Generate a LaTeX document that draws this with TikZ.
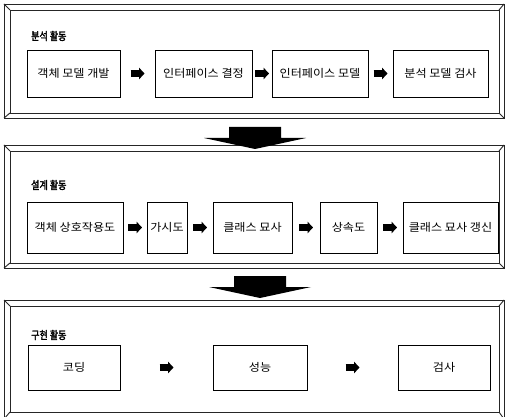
\documentclass[tikz,border=0pt]{standalone}
\usepackage{fontspec}
\newfontfamily\krbox[FakeStretch=1.1]{Noto Sans CJK KR}
\newfontfamily\krtitle[FakeStretch=0.82,FakeBold=2.5]{Noto Sans CJK KR}
\usetikzlibrary{arrows.meta,calc}
\begin{document}
\begin{tikzpicture}[x=1pt,y=-1pt,
  frame/.style={line width=0.9pt, draw=black!85},
  box/.style={draw, line width=0.85pt, inner sep=0pt, font=\krbox\fontsize{11}{13}\selectfont},
  title/.style={anchor=west, inner sep=0pt, font=\krtitle\fontsize{11}{13}\selectfont},
  blk/.style={line width=6.5pt, -{Triangle[width=11.5pt,length=5.5pt]}},
  bigarrow/.style={fill=black}
]
\clip (0,0) rectangle (506,417);
\fill[white] (0,0) rectangle (506,417);

% panel frames
\foreach \t/\b/\it/\ib in {4/118/10/113, 145/268/151/263, 300/419/306/412}{
  \draw[frame] (4,\t) rectangle (504,\b);
  \draw[frame] (10,\it) rectangle (499,\ib);
  \draw[frame] (4,\t) -- (10,\it);
  \draw[frame] (504,\t) -- (499,\it);
  \draw[frame] (4,\b) -- (10,\ib);
  \draw[frame] (504,\b) -- (499,\ib);
}

% panel 1
\node[title] (t1) at (31,36) {분석 활동};
\node[box, minimum width=93pt, minimum height=47pt] (b11) at (73.5,73.5) {객체 모델 개발};
\node[box, minimum width=97pt, minimum height=47pt] (b12) at (203.5,73.5) {인터페이스 결정};
\node[box, minimum width=96pt, minimum height=47pt] (b13) at (320,73.5) {인터페이스 모델};
\node[box, minimum width=95pt, minimum height=47pt] (b14) at (440.5,73.5) {분석 모델 검사};
\draw[blk] ($(b11.east)!0.5!(b12.west)+(-7,0)$) -- ++(14,0);
\draw[blk] ($(b12.east)!0.5!(b13.west)+(-7,0)$) -- ++(14,0);
\draw[blk] ($(b13.east)!0.5!(b14.west)+(-7,0)$) -- ++(14,0);

% big arrow 1
\coordinate (d1) at (255,149);
\fill[bigarrow] (d1) -- ++(51,-11) -- ++(-25,0) -- ++(0,-11) -- ++(-52,0) -- ++(0,11) -- ++(-25,0) -- cycle;

% panel 2
\node[title] (t2) at (31,185) {설계 활동};
\node[box, minimum width=96pt, minimum height=51pt] (b21) at (75,227.5) {객체 상호작용도};
\node[box, minimum width=40pt, minimum height=51pt] (b22) at (167,227.5) {가시도};
\node[box, minimum width=79pt, minimum height=51pt] (b23) at (252.5,227.5) {클래스 묘사};
\node[box, minimum width=57pt, minimum height=51pt] (b24) at (348.5,227.5) {상속도};
\node[box, minimum width=95pt, minimum height=51pt] (b25) at (450.5,227.5) {클래스 묘사 갱신};
\draw[blk] ($(b21.east)!0.5!(b22.west)+(-7,0)$) -- ++(14,0);
\draw[blk] ($(b22.east)!0.5!(b23.west)+(-7,0)$) -- ++(14,0);
\draw[blk] ($(b23.east)!0.5!(b24.west)+(-7,0)$) -- ++(14,0);
\draw[blk] ($(b24.east)!0.5!(b25.west)+(-7,0)$) -- ++(14,0);

% big arrow 2
\coordinate (d2) at (260,298);
\fill[bigarrow] (d2) -- ++(51,-11) -- ++(-25,0) -- ++(0,-11) -- ++(-52,0) -- ++(0,11) -- ++(-25,0) -- cycle;

% panel 3
\node[title] (t3) at (31,335) {구현 활동};
\node[box, minimum width=92pt, minimum height=45pt] (b31) at (74,367.5) {코딩};
\node[box, minimum width=94pt, minimum height=45pt] (b32) at (260,367.5) {성능};
\node[box, minimum width=92pt, minimum height=45pt] (b33) at (444,367.5) {검사};
\draw[blk] ($(b31.east)!0.5!(b32.west)+(-7,0)$) -- ++(14,0);
\draw[blk] ($(b32.east)!0.5!(b33.west)+(-7,0)$) -- ++(14,0);
\end{tikzpicture}
\end{document}
